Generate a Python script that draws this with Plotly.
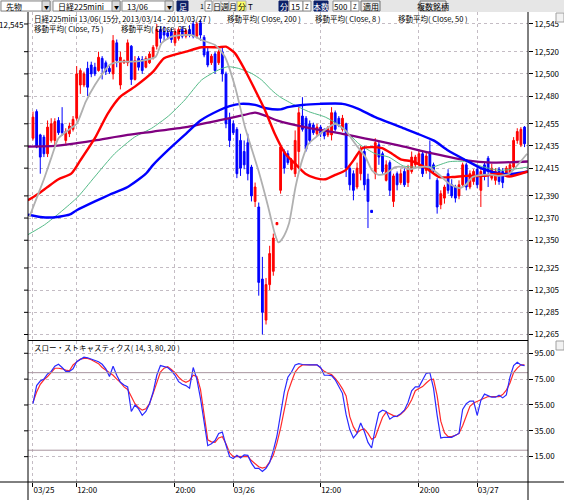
import plotly.graph_objects as go

# ---------------- data ----------------
bar_index = list(range(136))
opens = [12442,12466,12445,12443,12428,12440,12440,12458,12455,12440,12446,12450,12460,12490,12490,12505,12508,12506,12503,12514,
         12510,12505,12500,12528,12490,12510,12510,12525,12495,12514,12513,12506,12510,12515,12525,12540,12538,12537,12538,12528,
         12532,12540,12534,12540,12545,12534,12546,12533,12520,12510,12518,12510,12520,12500,12460,12455,12450,12440,12430,12438,
         12416,12385,12380,12315,12278,12310,12322,12364,12395,12430,12428,12414,12410,12430,12462,12460,12455,12454,12446,12452,
         12449,12445,12445,12465,12460,12450,12455,12415,12410,12398,12410,12430,12405,12377,12410,12436,12428,12404,12420,12385,
         12410,12402,12412,12402,12412,12418,12420,12428,12413,12430,12418,12404,12382,12388,12410,12400,12398,12390,12400,12418,
         12398,12403,12414,12395,12418,12424,12406,12404,12414,12412,12410,12411,12416,12440,12436,12452]
highs = [12466,12468,12446,12445,12458,12460,12460,12461,12470,12451,12456,12462,12507,12505,12502,12511,12511,12510,12520,12516,
         12512,12507,12535,12531,12520,12513,12531,12526,12516,12516,12516,12516,12520,12526,12545,12543,12543,12540,12541,12541,
         12542,12543,12541,12544,12548,12547,12549,12535,12524,12518,12520,12522,12524,12502,12465,12458,12452,12446,12440,12446,
         12418,12402,12384,12335,12316,12345,12356,12366,12436,12432,12431,12424,12449,12470,12479,12462,12458,12456,12455,12454,
         12451,12453,12470,12467,12462,12463,12456,12418,12413,12420,12435,12435,12410,12377,12442,12440,12430,12422,12422,12410,
         12412,12414,12415,12418,12430,12427,12432,12431,12430,12440,12420,12406,12395,12400,12414,12405,12400,12404,12420,12420,
         12413,12414,12416,12416,12420,12426,12419,12415,12416,12415,12417,12420,12443,12451,12452,12453]
lows = [12440,12433,12410,12425,12425,12438,12436,12445,12444,12437,12443,12448,12458,12482,12488,12480,12497,12498,12502,12495,
        12499,12500,12495,12506,12486,12509,12507,12490,12494,12503,12500,12505,12509,12513,12522,12528,12530,12531,12528,12525,
        12530,12532,12532,12533,12532,12532,12530,12515,12506,12508,12500,12508,12493,12451,12434,12445,12406,12408,12414,12404,
        12385,12380,12300,12265,12274,12305,12318,12364,12392,12410,12418,12413,12407,12414,12448,12430,12437,12445,12444,12443,
        12441,12443,12440,12448,12452,12448,12407,12395,12386,12396,12404,12395,12361,12375,12405,12418,12410,12403,12390,12380,
        12395,12400,12398,12398,12410,12415,12415,12407,12410,12405,12410,12374,12378,12383,12392,12388,12384,12387,12398,12395,
        12396,12400,12397,12380,12404,12398,12404,12400,12400,12397,12408,12409,12413,12437,12434,12434]
closes = [12461,12434,12425,12428,12452,12455,12457,12447,12447,12448,12453,12459,12500,12503,12500,12488,12500,12500,12515,12505,
          12502,12502,12530,12512,12515,12512,12528,12495,12512,12506,12503,12514,12518,12524,12540,12532,12535,12534,12531,12538,
          12540,12534,12539,12536,12534,12545,12535,12517,12508,12516,12503,12520,12500,12455,12440,12447,12410,12415,12418,12410,
          12390,12398,12312,12285,12310,12338,12352,12366,12434,12415,12420,12422,12440,12465,12450,12432,12440,12447,12452,12446,
          12444,12451,12465,12450,12455,12460,12415,12400,12395,12415,12432,12400,12385,12375,12438,12425,12412,12418,12395,12408,
          12400,12410,12400,12415,12425,12425,12428,12410,12426,12412,12413,12380,12392,12398,12395,12390,12388,12400,12418,12398,
          12410,12412,12400,12412,12408,12412,12415,12412,12403,12402,12415,12418,12440,12448,12450,12437]

# moving averages (bar position, price)
ma8_x = [-1, 1, 3, 5, 7, 10, 12, 14.5, 17, 19.5, 21, 24, 27, 30, 33.7, 35.3, 38.1, 43.6, 46.3, 50, 52.7, 55.5, 58.2, 61.9,
         64.6, 66.4, 67.4, 68.6, 70.3, 72.1, 73.9, 75.7, 78.5, 81.2, 83, 85.8, 88.5, 91.3, 93.1, 94.9, 96.8, 99.5, 101.7,
         103.3, 106.1, 108.8, 111.6, 114.3, 117.1, 118.9, 120.7, 123.5, 126.2, 128, 130.8, 132.6, 135.7]
ma8_y = [12371, 12388, 12405, 12424, 12442, 12450, 12455, 12475, 12490, 12502, 12508, 12511, 12511, 12512, 12515.5, 12527.6,
         12533.6, 12535, 12530.6, 12526, 12515.5, 12488.5, 12452.4, 12413, 12380, 12356, 12348, 12352, 12365, 12398, 12422,
         12437, 12445, 12452, 12455, 12449, 12437, 12425, 12413, 12409, 12410, 12416, 12416, 12414, 12416, 12416, 12409,
         12401, 12397, 12400, 12407, 12409, 12409, 12408, 12410, 12416, 12428]
ma25_x = [-1.4, 1.5, 4, 7, 10.5, 13, 17, 20.5, 24, 28, 33, 36, 42, 46.3, 51, 53, 55.5, 58.2, 61, 63.7, 66.4, 69.3, 72, 74.8,
          77.6, 80.3, 83, 85.8, 88, 90.4, 93, 95.9, 98.6, 101, 104.3, 108, 111.6, 115.2, 118.9, 123.5, 128, 130.8, 135.9]
ma25_y = [12386, 12392, 12398, 12405, 12410, 12422, 12442, 12464, 12479.5, 12488.5, 12502, 12514, 12520, 12524, 12524,
          12524.5, 12518.5, 12503.5, 12485.5, 12467.4, 12446, 12428, 12419, 12410, 12406, 12405, 12409, 12413, 12422, 12433,
          12434, 12433, 12428, 12423, 12421, 12415, 12407, 12407, 12408, 12408, 12410, 12407.5, 12412]
ma50_x = [-1.4, 3.2, 7.8, 12.3, 16.9, 22.4, 27.9, 32.6, 37.2, 41.7, 46.3, 50.9, 53.6, 56.4, 60, 62.8, 65.5, 67.7, 71.2, 75.7,
          80.3, 84.9, 89.5, 94, 97.7, 101.7, 104.3, 109.7, 114.3, 118.9, 123.5, 128, 131.7, 135.9]
ma50_y = [12355, 12364, 12376, 12389, 12407, 12428, 12443, 12451, 12462, 12476.5, 12494.5, 12503.5, 12506.5, 12505, 12500.5,
          12494.5, 12485.5, 12479.5, 12473, 12466, 12461, 12452, 12437, 12428, 12425, 12417, 12416, 12416, 12420.8, 12421,
          12416.3, 12413, 12414, 12416]
ma75_x = [-1.4, 2, 5, 10, 12, 17, 21, 26, 31, 33, 37, 42, 46, 51, 54, 57, 61, 64, 68, 70, 74, 79, 85, 89, 94, 101, 110, 114,
          119, 123, 128, 132, 135.9]
ma75_y = [12373, 12371, 12370.5, 12373, 12377, 12385, 12391, 12398, 12410, 12418, 12431, 12446, 12458, 12467, 12471, 12473,
          12472, 12469, 12468, 12470, 12472, 12473, 12473, 12469, 12461, 12452, 12440, 12431, 12422, 12415, 12410, 12410, 12412]
ma200_x = [-1.4, 6, 12, 17, 26, 33, 42, 51, 58, 61, 64, 67, 76, 85, 94, 101, 110, 119, 126, 135.9]
ma200_y = [12434.5, 12435, 12437.5, 12440, 12445, 12448, 12452, 12458, 12463, 12465, 12462, 12458, 12451, 12446, 12440, 12435,
           12428, 12422, 12420, 12421]

# slow stochastics (14, 3, 80, 20)
stoch_k = [56,70,73.5,75,79,81,85,86.5,84,81,81,83,88.5,90.5,92,91.5,90.5,90,88.5,86.5,83,77,85,78,72.5,70.5,69,50,55,52,
           47,50,56,65,78,85.5,85,84,81.5,78,73,71,70,68,84,75,60,40,23.5,25,27.5,33,34,24,15,13.5,16,14,16.3,16,
           10,6,6,3.6,6,10.5,19.7,31,48,65,76.5,80.5,86,87,86.3,86,86,86,86,84,78,78,77.7,74.5,69.5,64,47.5,36,29.5,33,
           41,34.5,26,21.7,36.7,49,51,50,44,46,46.4,48.3,51,57,66,69,69,74,79.5,80,68,47,29.5,30,30,30,31.5,33,
           51.5,56,58,58,47,58.5,63.4,62,61,61,62.5,60.5,62.8,76.5,85.5,88,86,85.5]
stoch_d = [57,65,71,74.5,77,80,83.4,83.4,83,82,81.5,86,88.5,90.5,91,91,90,88.5,87,84,82,80,78,75,72.5,69,67,61.5,56,53,
           51,52,56,64,72,80.5,83.5,84.7,82.5,80,76.5,74,72.5,74,78,77,67,46,28,26.5,26,29.5,30.5,25,18,15,15,15,15,15.3,
           12,9.5,7.2,6.2,7,11,16,25.5,37,51,65,73,80.5,84,86,86,86,86,86,83.5,81,79.5,78.5,75.5,72,67.5,62,46,38,33.5,
           35.6,36.5,33,28.5,30,38,45.5,49.5,48,46.8,46,47.8,50.5,53.8,59,66,67.8,69.2,72,74.5,75,62,42.5,33.5,30.5,30.5,31.5,33,
           39,47,54,56.5,57.8,58.9,60.2,61.5,61.5,61.5,61.5,63,66.5,72,80,83.5,86,86]

price_ticks = [12545, 12520, 12500, 12480, 12455, 12435, 12415, 12390, 12370, 12350, 12325, 12305, 12285, 12265]
price_tick_text = ["12,545", "12,520", "12,500", "12,480", "12,455", "12,435", "12,415", "12,390", "12,370", "12,350",
                   "12,325", "12,305", "12,285", "12,265"]
stoch_ticks = [95, 75, 55, 35, 15]
stoch_tick_text = ["95.00", "75.00", "55.00", "35.00", "15.00"]
stoch_levels = [80, 20]
time_tick_pos = [0, 12, 39, 55, 79, 106, 122]
time_tick_text = ["03/25", "12:00", "20:00", "03/26", "12:00", "20:00", "03/27"]

legend_line1 = ["日経225mini 13/06( 15分, 2013/03/14 - 2013/03/27 )", "移動平均( Close, 200 )",
                "移動平均( Close, 8 )", "移動平均( Close, 50 )"]
legend_line2 = ["移動平均( Close, 75 )", "移動平均( Close, 25 )"]
stoch_title = "スロー・ストキャスティクス( 14, 3, 80, 20 )"

# ---------------- figure ----------------
FONT = "Noto Sans CJK JP"
W, H = 564, 500
ML, MR, MT, MB = 28, 36, 12, 18
PW, PH = W - ML - MR, H - MT - MB


def PX(x):
    return (x - ML) / PW


def PY(y):
    return (H - MB - y) / PH


fig = go.Figure()
fig.add_trace(go.Candlestick(
    x=bar_index, open=opens, high=highs, low=lows, close=closes,
    increasing=dict(line=dict(color="#ff0000", width=1), fillcolor="#ff0000"),
    decreasing=dict(line=dict(color="#0000ff", width=1), fillcolor="#0000ff"),
    whiskerwidth=0, xaxis="x", yaxis="y", hoverinfo="skip"))

ma_specs = [
    (ma50_x, ma50_y, "#55bb88", 1.0),
    (ma200_x, ma200_y, "#800080", 2.3),
    (ma75_x, ma75_y, "#0000ff", 2.4),
    (ma25_x, ma25_y, "#ff0000", 2.4),
    (ma8_x, ma8_y, "#b0b0b0", 1.8),
]
for xs, ys, col, wd in ma_specs:
    fig.add_trace(go.Scatter(x=xs, y=ys, mode="lines", line=dict(color=col, width=wd, shape="spline", smoothing=0.6),
                             xaxis="x", yaxis="y", hoverinfo="skip"))

fig.add_trace(go.Scatter(x=bar_index, y=stoch_d, mode="lines", line=dict(color="#ff2a2a", width=1.2),
                         xaxis="x2", yaxis="y2", hoverinfo="skip"))
fig.add_trace(go.Scatter(x=bar_index, y=stoch_k, mode="lines", line=dict(color="#2a2aff", width=1.2),
                         xaxis="x2", yaxis="y2", hoverinfo="skip"))

GRID = "#c4bcc4"
tickfont = dict(family=FONT, size=8, color="#000000")
xr = [-1.37, 135.95]

fig.update_layout(
    width=W, height=H, margin=dict(l=ML, r=MR, t=MT, b=MB, autoexpand=False),
    paper_bgcolor="#ffffff", plot_bgcolor="#ffffff", showlegend=False, boxgap=0.3,
    xaxis=dict(domain=[0, 1], anchor="y", range=xr, tickvals=time_tick_pos, showticklabels=False, ticks="",
               showgrid=True, gridcolor=GRID, griddash="dot", gridwidth=1, zeroline=False, automargin=False,
               rangeslider=dict(visible=False), fixedrange=True),
    xaxis2=dict(domain=[0, 1], anchor="y2", range=xr, tickvals=time_tick_pos, ticktext=time_tick_text,
                ticks="outside", ticklen=4, tickcolor="#000000", ticklabelposition="outside right",
                tickfont=tickfont, showgrid=True, gridcolor=GRID, griddash="dot", zeroline=False, automargin=False),
    yaxis=dict(domain=[0.302, 1], anchor="x", side="right", range=[12260, 12555.8], tickvals=price_ticks,
               ticktext=price_tick_text, ticks="outside", ticklen=4, tickcolor="#000000", tickfont=tickfont,
               showgrid=True, gridcolor=GRID, griddash="dot", zeroline=False, showline=False, automargin=False),
    yaxis2=dict(domain=[0, 0.3], anchor="x2", side="right", range=[-4.6, 104.5], tickvals=stoch_ticks,
                ticktext=stoch_tick_text, ticks="outside", ticklen=4, tickcolor="#000000", tickfont=tickfont,
                showgrid=True, gridcolor=GRID, griddash="dot", zeroline=False, automargin=False),
)

shapes = []
annotations = []

# stochastic 80/20 levels
for lv in stoch_levels:
    shapes.append(dict(type="line", xref="paper", yref="y2", x0=0, x1=1, y0=lv, y1=lv,
                       line=dict(color="#a8949e", width=1)))

# frame lines
for xp in (ML, ML + PW):
    shapes.append(dict(type="line", xref="paper", yref="paper", x0=PX(xp), x1=PX(xp), y0=PY(H), y1=PY(MT),
                       line=dict(color="#000000", width=1)))
shapes.append(dict(type="line", xref="paper", yref="paper", x0=PX(0), x1=PX(W), y0=PY(H - MB), y1=PY(H - MB),
                   line=dict(color="#000000", width=1)))
shapes.append(dict(type="line", xref="paper", yref="paper", x0=PX(ML), x1=PX(ML + PW), y0=PY(340.5), y1=PY(340.5),
                   line=dict(color="#000000", width=1)))
# left ticks
for pv in price_ticks:
    shapes.append(dict(type="line", xref="paper", yref="y", x0=PX(ML - 4), x1=PX(ML), y0=pv, y1=pv,
                       line=dict(color="#000000", width=1)))
for sv in stoch_ticks:
    shapes.append(dict(type="line", xref="paper", yref="y2", x0=PX(ML - 4), x1=PX(ML), y0=sv, y1=sv,
                       line=dict(color="#000000", width=1)))

# toolbar
shapes.append(dict(type="rect", xref="paper", yref="paper", x0=PX(0), x1=PX(W), y0=PY(MT), y1=PY(0),
                   fillcolor="#e6e6e6", line=dict(width=0), layer="above"))


def box(x0, x1, fill, border="#8a8a8a", y0=1, y1=11):
    shapes.append(dict(type="rect", xref="paper", yref="paper", x0=PX(x0), x1=PX(x1), y0=PY(y1), y1=PY(y0),
                       fillcolor=fill, line=dict(color=border, width=1), layer="above"))


def text(x, y, s, size=8, color="#000000", anchor="left"):
    annotations.append(dict(xref="paper", yref="paper", x=PX(x), y=PY(y), text=s, showarrow=False,
                            xanchor=anchor, yanchor="middle", font=dict(family=FONT, size=size, color=color)))


NAVY = "#0c2068"
for (x0, x1, label, ax) in [(1, 50, "先物", 4), (53, 120, "日経225mini", 56), (122, 173, "13/06", 125)]:
    box(x0, x1, "#ffffff")
    box(x1 - 8, x1, "#dcdcdc")
    text(ax, 6, label)
    text(x1 - 4, 6.5, "▼", size=5, anchor="center")
box(177, 188, NAVY, NAVY)
text(182.5, 6, "足", color="#ffffff", anchor="center")
text(202, 6, "1", size=7, anchor="center")
box(205, 212, "#ffffff")
text(208.5, 6, "Z", size=6, anchor="center")
for x0, lab in [(213, "日"), (221, "週"), (229, "月")]:
    box(x0, x0 + 8, "#f4f4f4", "#b0b0b0")
    text(x0 + 4, 6, lab, anchor="center")
box(237, 246, "#ffff66", "#b0b0b0")
text(241.5, 6, "分", anchor="center")
text(250.5, 6, "T", anchor="center")
box(279, 288, NAVY, NAVY)
text(283.5, 6, "分", color="#ffffff", anchor="center")
box(289, 303, "#ffffff")
text(302, 6, "15", anchor="right")
box(303, 311, "#ffffff")
text(307, 6, "Z", size=6, anchor="center")
box(314, 328, NAVY, NAVY)
text(321, 6, "本数", color="#ffffff", anchor="center")
box(333, 351, "#ffffff")
text(350, 6, "500", anchor="right")
box(351, 359, "#ffffff")
text(355, 6, "Z", size=6, anchor="center")
box(361, 380, "#ececec", "#707070")
text(370.5, 6, "適用", anchor="center")
box(420, 446, "#ececec", "#707070")
text(433, 6, "複数銘柄", anchor="center")

# small panel buttons at right
box(556, 564, "#f2f2f2", "#a0a0a0", 13, 22)
box(556, 564, "#f2f2f2", "#a0a0a0", 341, 350)

# legend texts
for s, x in zip(legend_line1, [32, 225, 313, 396]):
    text(x, 18.5, s, size=7.5)
for s, x in zip(legend_line2, [32, 119]):
    text(x, 28.5, s, size=7.5)
text(32, 347.5, stoch_title, size=7.5)
text(25, 24, price_tick_text[0], anchor="right")

fig.update_layout(shapes=shapes, annotations=annotations)
fig.write_html("out.html")
